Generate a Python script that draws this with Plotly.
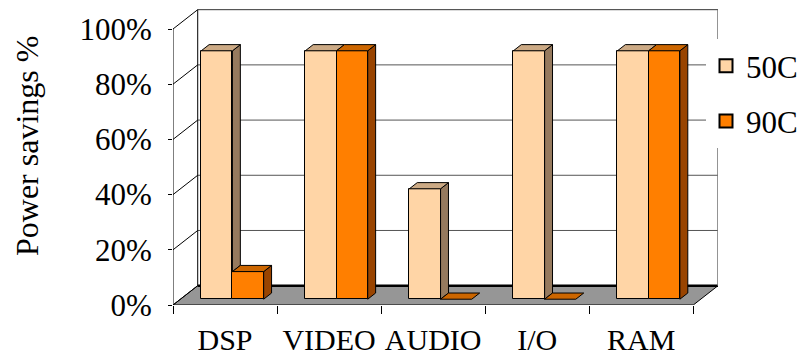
import plotly.graph_objects as go

# ---------------- data ----------------
categories = ["DSP", "VIDEO", "AUDIO", "I/O", "RAM"]
series_names = ["50C", "90C"]
values_50c = [90, 90, 40, 90, 90]
values_90c = [10, 90, 0, 0, 90]
y_tick_values = [0, 20, 40, 60, 80, 100]

# ---------------- styling / 3D projection ----------------
front_colors = ["#FFD5A6", "#FF7F00"]
side_colors = ["#967A5E", "#994400"]
top_colors = ["#CCAA85", "#CC6600"]
FLOOR_COLOR = "#969696"
FONT = "Liberation Serif, Times New Roman, serif"

BAR_W = 0.3          # bar width in category units
DEPTH_DX = 0.2375    # x shift for full depth (axis units)
DEPTH_DY = 7.0       # y shift for full depth (axis units)
FRONT_D = 0.3        # bar front plane (fraction of depth)
BACK_D = 0.62        # bar back plane
X_LEFT = -0.5
X_RIGHT = len(categories) - 0.5
Y_TOP = max(y_tick_values)

L, R, T, B = 173, 718, 9, 305
W, H = 803, 355

fig = go.Figure()

dd = BACK_D - FRONT_D
base = FRONT_D * DEPTH_DY
all_vals = [values_50c, values_90c]

# front faces as bars
for s, vals in enumerate(all_vals):
    xs = [i - BAR_W + BAR_W * s + BAR_W / 2 + FRONT_D * DEPTH_DX for i in range(len(categories))]
    fig.add_trace(go.Bar(
        x=xs, y=vals, base=[base] * len(vals), width=BAR_W,
        marker=dict(color=front_colors[s], line=dict(color="black", width=1)),
        showlegend=False, hoverinfo="skip"))

def poly(xs, ys, color):
    fig.add_trace(go.Scatter(
        x=xs + [xs[0]], y=ys + [ys[0]], mode="lines", fill="toself",
        fillcolor=color, line=dict(color="black", width=1),
        showlegend=False, hoverinfo="skip"))

# top and side faces
for s, vals in enumerate(all_vals):
    for i, v in enumerate(vals):
        x0 = i - BAR_W + BAR_W * s + FRONT_D * DEPTH_DX
        x1 = x0 + BAR_W
        yb = base
        yt = base + v
        ddx, ddy = dd * DEPTH_DX, dd * DEPTH_DY
        h0 = values_90c[i] if s == 0 else 0
        if v > h0:
            poly([x1, x1 + ddx, x1 + ddx, x1],
                 [yb + h0, yb + h0 + ddy, yt + ddy, yt], side_colors[s])
        poly([x0, x1, x1 + ddx, x0 + ddx],
             [yt, yt, yt + ddy, yt + ddy], top_colors[s])

# legend-only traces
for s, name in enumerate(series_names):
    fig.add_trace(go.Scatter(
        x=[None], y=[None], mode="markers", name=name, legendgroup=name,
        marker=dict(symbol="square", size=13, color=front_colors[s],
                    line=dict(color="black", width=2))))

# ---------------- walls / floor / gridlines as shapes ----------------
shapes = []
bx_l = X_LEFT + DEPTH_DX
bx_r = X_RIGHT + DEPTH_DX
shapes.append(dict(type="path", xref="x", yref="y", layer="below",
                   path=f"M{X_LEFT},0 L{X_RIGHT},0 L{bx_r},{DEPTH_DY} L{bx_l},{DEPTH_DY} Z",
                   fillcolor=FLOOR_COLOR, line=dict(color="black", width=1)))
shapes.append(dict(type="line", xref="x", yref="y", layer="below",
                   x0=bx_l, y0=DEPTH_DY, x1=bx_r, y1=DEPTH_DY,
                   line=dict(color="black", width=2.5)))
for v in y_tick_values[1:]:
    shapes.append(dict(type="line", xref="x", yref="y", layer="below",
                       x0=bx_l, y0=v + DEPTH_DY, x1=bx_r, y1=v + DEPTH_DY,
                       line=dict(color="#555555" if v < Y_TOP else "#333333", width=1)))
for v in y_tick_values:
    shapes.append(dict(type="line", xref="x", yref="y", layer="below",
                       x0=X_LEFT, y0=v, x1=bx_l, y1=v + DEPTH_DY,
                       line=dict(color="black", width=1)))
shapes.append(dict(type="line", xref="x", yref="y", layer="below",
                   x0=X_LEFT, y0=0, x1=X_LEFT, y1=Y_TOP, line=dict(color="black", width=1)))
shapes.append(dict(type="line", xref="x", yref="y", layer="below",
                   x0=bx_l, y0=DEPTH_DY, x1=bx_l, y1=Y_TOP + DEPTH_DY, line=dict(color="black", width=1)))
shapes.append(dict(type="line", xref="x", yref="y", layer="below",
                   x0=bx_r, y0=DEPTH_DY, x1=bx_r, y1=Y_TOP + DEPTH_DY, line=dict(color="#707070", width=1.5)))

y_range_top = (B - T) / ((B - 29) / Y_TOP)
fig.update_layout(
    width=W, height=H, autosize=False,
    margin=dict(l=L, r=W - R, t=T, b=H - B, autoexpand=False),
    paper_bgcolor="white", plot_bgcolor="white",
    font=dict(family=FONT, color="black", size=30),
    shapes=shapes, barmode="overlay", bargap=0,
    xaxis=dict(range=[X_LEFT, bx_r], showgrid=False, zeroline=False, showline=False,
               tickmode="array", tickvals=list(range(len(categories))), ticktext=categories,
               ticks="", tickfont=dict(family=FONT, size=30, color="black"), ticklabelstandoff=14,
               minor=dict(tickmode="array", tickvals=[i - 0.5 for i in range(len(categories) + 1)],
                          ticks="outside", ticklen=8, tickcolor="black", tickwidth=1, showgrid=False)),
    yaxis=dict(range=[0, y_range_top], showgrid=False, zeroline=False, showline=False,
               tickmode="array", tickvals=y_tick_values,
               ticktext=[f"{v}%" for v in y_tick_values],
               ticks="outside", ticklen=4, tickcolor="black",
               tickfont=dict(family=FONT, size=31, color="black"),
               ticklabelstandoff=10),
    legend=dict(x=(706 - L) / (R - L), xanchor="left", y=(B - 39) / (B - T), yanchor="top",
                bgcolor="white", borderwidth=0, font=dict(family=FONT, size=31, color="black"),
                tracegroupgap=12, itemsizing="trace"),
    annotations=[dict(text="Power savings %", textangle=-90, xref="paper", yref="paper",
                      x=(27 - L) / (R - L), y=(B - 146) / (B - T), showarrow=False,
                      xanchor="center", yanchor="middle",
                      font=dict(family=FONT, size=32, color="black"))],
)

fig.write_html("out.html")
